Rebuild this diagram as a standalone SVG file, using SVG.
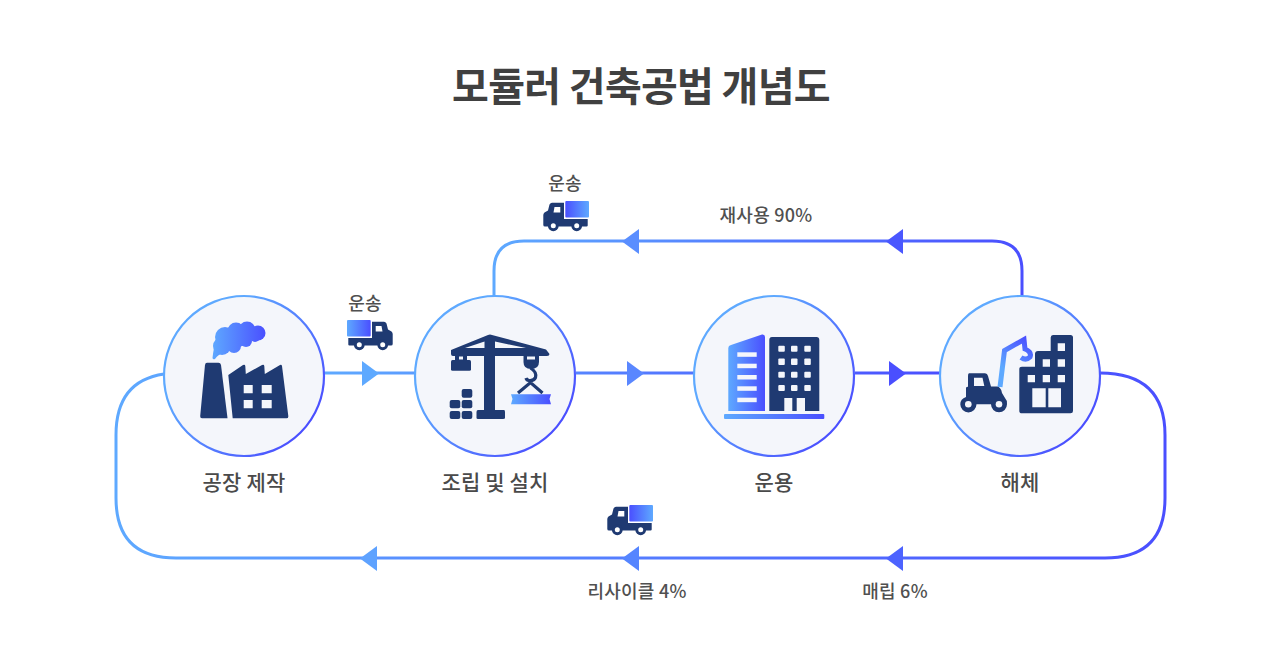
<svg xmlns="http://www.w3.org/2000/svg" xmlns:xlink="http://www.w3.org/1999/xlink" width="1280" height="668" viewBox="0 0 1280 668">
<style>
text{font-family:"Noto Sans CJK KR","Noto Sans",sans-serif;text-anchor:middle}
.title{font-size:40px;font-weight:700;fill:#404040;letter-spacing:-.7px}
.label{font-size:21px;font-weight:500;fill:#4a4a4a;letter-spacing:.15px}
.small{font-size:18px;font-weight:500;fill:#505050;letter-spacing:.25px}
.ring{fill:#f4f6fb;stroke:url(#ringG);stroke-width:2.2}
.navy{fill:#1f3a72}
.bg{fill:#f4f6fb}
.wire{fill:none;stroke-width:3}
</style>
<defs>
<linearGradient id="ringG" x1="0.1" y1="0.2" x2="0.9" y2="0.8"><stop offset="0.2" stop-color="#5ea9ff"/><stop offset="1" stop-color="#4a4fff"/></linearGradient>
<linearGradient id="boxG" x1="0" y1="0" x2="1" y2="0"><stop offset="0" stop-color="#5ea9ff"/><stop offset="1" stop-color="#4a4fff"/></linearGradient>
<linearGradient id="cloudG" gradientUnits="userSpaceOnUse" x1="212" y1="0" x2="266" y2="0"><stop offset="0" stop-color="#5ea9ff"/><stop offset="1" stop-color="#4a4fff"/></linearGradient>
<linearGradient id="armG" gradientUnits="userSpaceOnUse" x1="1000" y1="385" x2="1030" y2="340"><stop offset="0.3" stop-color="#5ea9ff"/><stop offset="1" stop-color="#4a4fff"/></linearGradient>
<linearGradient id="topG" gradientUnits="userSpaceOnUse" x1="494" y1="0" x2="1022" y2="0"><stop offset="0" stop-color="#5ea9ff"/><stop offset="1" stop-color="#4a4fff"/></linearGradient>
<linearGradient id="botG" gradientUnits="userSpaceOnUse" x1="116" y1="0" x2="1165" y2="0"><stop offset="0" stop-color="#5ea9ff"/><stop offset="1" stop-color="#4a4fff"/></linearGradient>
<linearGradient id="midG" gradientUnits="userSpaceOnUse" x1="324" y1="0" x2="940" y2="0"><stop offset="0" stop-color="#5ea9ff"/><stop offset="1" stop-color="#4a4fff"/></linearGradient>
<symbol id="truck" overflow="visible">
<rect x="0" y="0" width="23.700" height="16.500" rx="1" fill="url(#boxG)"/>
<path class="navy" fill-rule="evenodd" d="M25 1.700H37Q38.500 1.700 39.500 3.500L41 9.500L44.500 11.500Q45.700 12.500 45.700 14V24Q45.700 25.500 44 25.500H2.500Q1.300 25.500 1.300 24.500V18H25ZM28.700 6V11.500H35.500L34.500 6Z"/>
<circle cx="12.300" cy="24.800" r="5.400" class="navy"/><circle cx="12.300" cy="24.800" r="2.500" fill="#fff"/>
<circle cx="35.700" cy="24.800" r="5.400" class="navy"/><circle cx="35.700" cy="24.800" r="2.500" fill="#fff"/>
</symbol>
</defs>
<rect width="1280" height="668" fill="#fff"/>
<text class="title" x="641" y="101">모듈러 건축공법 개념도</text>

<g id="connectors">
<path class="wire" stroke="url(#topG)" d="M494 296V271Q494 241 524 241H992Q1022 241 1022 271V296"/>
<path class="wire" stroke="url(#botG)" d="M164 374Q116 381 116 435V498Q116 558 176 558H1105Q1165 558 1165 498V435Q1165 373 1100 373"/>
<path class="wire" stroke="url(#midG)" d="M324 373H415M576 373H694M855 373H940"/>
<polygon points="362,361 379,373.500 362,386" fill="#5ea9ff"/>
<polygon points="627,361 644,373.500 627,386" fill="#5a87ff"/>
<polygon points="889,361 906,373.500 889,386" fill="#4a4fff"/>
<polygon points="639,229 622,241.500 639,254" fill="#5a8eff"/>
<polygon points="903,229 886,241.500 903,254" fill="#4a57ff"/>
<polygon points="377,546 360,558.500 377,571" fill="#5ea2ff"/>
<polygon points="639,546 622,558.500 639,571" fill="#5585ff"/>
<polygon points="903,546 886,558.500 903,571" fill="#4d63ff"/>
</g>

<g id="node-factory">
<circle class="ring" cx="244" cy="376" r="80"/>
<g fill="url(#cloudG)">
<circle cx="258" cy="333" r="7.500"/><circle cx="247" cy="330" r="8.500"/><circle cx="236" cy="331" r="8.500"/><circle cx="225" cy="337" r="10"/><circle cx="222" cy="346" r="9"/><circle cx="234" cy="346" r="7"/><circle cx="246" cy="341" r="6"/><circle cx="255" cy="337" r="5"/><circle cx="238" cy="339" r="8"/>
<path d="M214 348Q213 353 212.500 358Q213 360 215 359Q218 354 226 352Z"/>
</g>
<path class="navy" d="M207 362.700H218.500Q220.500 362.700 221 365L227.500 418.300H202Q200 418.300 200.200 416L205 365Q205.300 362.700 207 362.700Z"/>
<path class="navy" fill-rule="evenodd" d="M228.300 375L243 365Q245 364 245.300 366L245.800 374L262 365Q264 364 264.300 366L264.800 374L280 365Q281.500 364 282 366L288.300 416Q288.500 418.300 286.500 418.300H232.700ZM243.700 385V393.300H252.700V385ZM261.700 385V393.300H271.700V385ZM243.700 400V408.300H252.700V400ZM261.700 400V408.300H271.700V400Z"/>
</g>

<g id="node-assembly">
<circle class="ring" cx="495" cy="376" r="80"/>
<path class="navy" fill-rule="evenodd" d="M451 350L488 335Q490 334 492 335L546 349.500L549.500 354Q549.500 356 547 356H453Q451 356 451 354ZM465 348L484.500 341.500V348ZM495 341.500L526 348H495Z"/>
<path class="navy" d="M484 348H495V410H504Q505 410 505 412V418Q505 419 503 419H478Q476.500 419 476.500 418V412Q476.500 410 478 410H484Z"/>
<rect class="navy" x="455" y="355" width="12" height="6"/>
<rect class="bg" x="459" y="356.500" width="4" height="3"/>
<rect class="navy" x="451" y="360" width="20" height="10.700" rx="1.500"/>
<path class="navy" d="M523.500 355H539V362Q539 369 531 369Q523.500 369 523.500 362Z"/>
<rect class="bg" x="527" y="356.500" width="8" height="3"/>
<path fill="none" stroke="#1f3a72" stroke-width="3.200" d="M530.500 368Q537 372 535.500 377.500Q534 381 529 380.500Q526.500 380 526 378M518 393L530.500 382.500L542.500 393"/>
<path fill="url(#boxG)" d="M511 394.300H551L549.500 399L551 404.300H511L512.500 399Z"/>
<g class="navy">
<rect x="449.700" y="400" width="10.600" height="8.300" rx="2"/><rect x="461.700" y="400" width="10.600" height="8.300" rx="2"/>
<rect x="461.700" y="389" width="10.600" height="8.700" rx="2"/>
<rect x="449.700" y="411" width="10.600" height="8" rx="2"/><rect x="461.700" y="411" width="10.600" height="8" rx="2"/>
</g>
</g>

<g id="node-operation">
<circle class="ring" cx="774" cy="376" r="80"/>
<path fill="url(#boxG)" d="M728.300 348Q728.300 345.500 731 345L762 334.500Q765 334 765 337V411H728.300Z"/>
<g fill="#f4f6fb"><rect x="737.300" y="352.300" width="19.400" height="4.500"/><rect x="737.300" y="363.700" width="19.400" height="4.500"/><rect x="737.300" y="375" width="19.400" height="4.500"/><rect x="737.300" y="386.300" width="19.400" height="4.500"/><rect x="737.300" y="397.700" width="19.400" height="4.500"/></g>
<path class="navy" fill-rule="evenodd" d="M772 337H816.500Q819.300 337 819.300 340V411H805V398H796.700V411H792.300V398H784.300V411H769.300V340Q769.300 337 772 337Z"/>
<g fill="#f4f6fb">
<rect x="778.300" y="345.700" width="6.500" height="6" rx="1"/><rect x="791" y="345.700" width="6.500" height="6" rx="1"/><rect x="804.300" y="345.700" width="6.500" height="6" rx="1"/>
<rect x="778.300" y="358.500" width="6.500" height="6.500" rx="1"/><rect x="791" y="358.500" width="6.500" height="6.500" rx="1"/><rect x="804.300" y="358.500" width="6.500" height="6.500" rx="1"/>
<rect x="778.300" y="371.700" width="6.500" height="6" rx="1"/><rect x="791" y="371.700" width="6.500" height="6" rx="1"/><rect x="804.300" y="371.700" width="6.500" height="6" rx="1"/>
<rect x="778.300" y="385" width="6.500" height="6" rx="1"/><rect x="791" y="385" width="6.500" height="6" rx="1"/><rect x="804.300" y="385" width="6.500" height="6" rx="1"/>
</g>
<rect x="724" y="414" width="100.300" height="5" rx="1" fill="url(#boxG)"/>
</g>

<g id="node-demolition">
<circle class="ring" cx="1020" cy="376" r="80"/>
<path fill="none" stroke="url(#armG)" stroke-width="5" d="M1000 387L1004.500 350.500L1024 339.500L1025 349Q1032 352 1030 357Q1026 361 1021 357.500"/>
<path class="navy" fill-rule="evenodd" d="M969 373.300H985Q987.500 373.300 988 376L991 386.500H997Q1001 387 1002 393L1005 398Q1007.500 400.500 1007 404.300A8 8 0 0 1 991 404.300H976.500A8 8 0 0 1 960.300 404.300Q960.300 399 966 397V388Q966 386.700 968 386.700V376Q968 373.300 969 373.300ZM974 377.700V386H984.300L982.500 377.700Z"/>
<circle cx="968.300" cy="404.300" r="3.300" fill="#f4f6fb"/><circle cx="999" cy="404.300" r="3.300" fill="#f4f6fb"/>
<path class="navy" fill-rule="evenodd" d="M1053 335H1070.500Q1073 335 1073 337.500V411Q1073 413.300 1070.500 413.300H1022Q1019.300 413.300 1019.300 411V369Q1019.300 366.700 1022 366.700H1035V354Q1035 351 1038 351H1050.700V337.500Q1050.700 335 1053 335ZM1057.700 343.300V351H1065V343.300ZM1042.700 359.300V366.700H1050V359.300ZM1057.700 359.300V366.700H1065V359.300ZM1027.700 375V382.300H1035V375ZM1042.700 375V382.300H1050V375ZM1057.700 375V382.300H1065V375ZM1032.300 388.300V407.300H1045.700V388.300ZM1048.300 388.300V407.300H1061V388.300Z"/>
</g>

<g id="label-factory"><text class="label" x="244" y="490">공장 제작</text></g>
<g id="label-assembly"><text class="label" x="495" y="490">조립 및 설치</text></g>
<g id="label-operation"><text class="label" x="774" y="490">운용</text></g>
<g id="label-demolition"><text class="label" x="1020" y="490">해체</text></g>

<g id="truck-1"><use href="#truck" xlink:href="#truck" transform="translate(347,320)"/><text class="small" x="365" y="310">운송</text></g>
<g id="truck-2"><use href="#truck" xlink:href="#truck" transform="translate(589,201) scale(-1,1)"/><text class="small" x="565" y="190">운송</text></g>
<g id="truck-3"><use href="#truck" xlink:href="#truck" transform="translate(653,505) scale(-1,1)"/></g>
<text class="small" x="766" y="222">재사용 90%</text>
<text class="small" x="637" y="598">리사이클 4%</text>
<text class="small" x="895" y="598">매립 6%</text>
</svg>
